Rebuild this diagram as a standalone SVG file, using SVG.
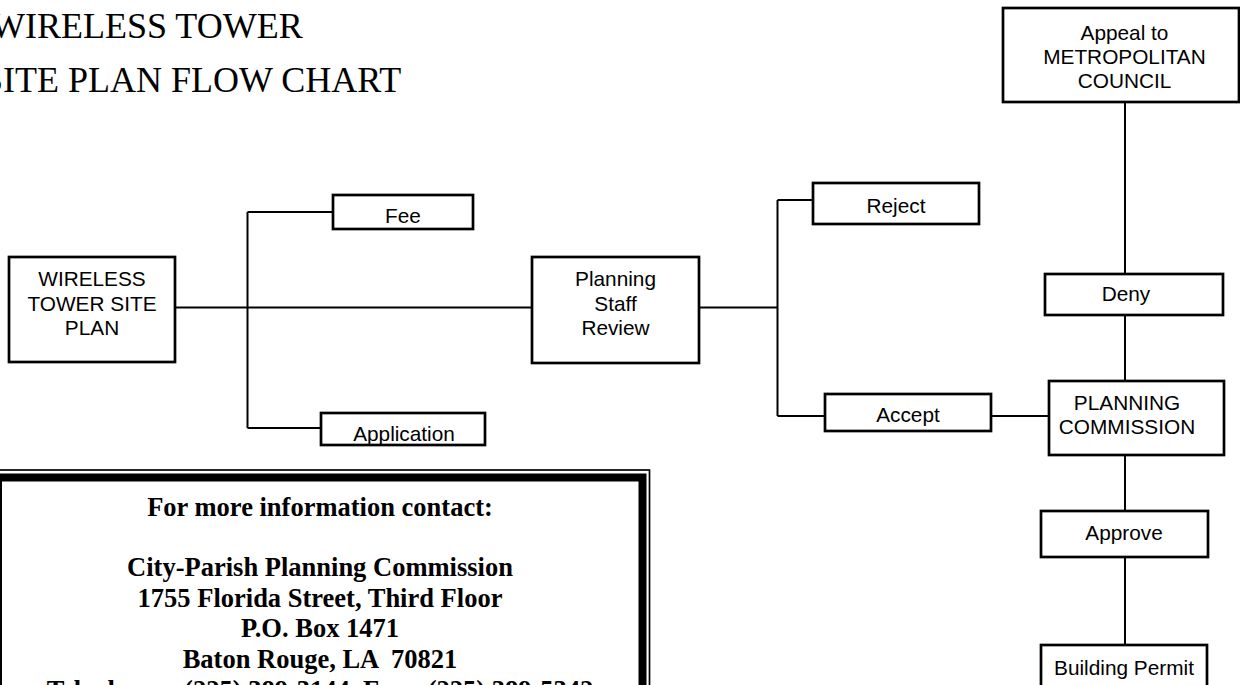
<svg xmlns="http://www.w3.org/2000/svg" width="1240" height="685" viewBox="0 0 1240 685">
<style>
.box{fill:#fff;stroke:#000;stroke-width:2.7}
.lbl{font-family:"Liberation Sans",Arial,sans-serif;font-size:20.8px;text-anchor:middle;fill:#000}
.conn{stroke:#000;stroke-width:2;fill:none}
.title{font-family:"Liberation Serif","Times New Roman",serif;font-size:36px;fill:#000}
.info{font-family:"Liberation Serif","Times New Roman",serif;font-weight:bold;font-size:26.5px;text-anchor:middle;fill:#000}
</style>
<rect width="1240" height="685" fill="#fff"/>
<g id="title">
<text class="title" x="-9" y="38">WIRELESS TOWER</text>
<text class="title" x="-17" y="91.5">SITE PLAN FLOW CHART</text>
</g>
<g id="connectors">
<path class="conn" d="M175 307.5H532"/>
<path class="conn" d="M247.5 212V428M247.5 212H333M247.5 428H321"/>
<path class="conn" d="M699 307.5H777.5"/>
<path class="conn" d="M777.5 200V416M777.5 200H813M777.5 416H825"/>
<path class="conn" d="M991 416H1049"/>
<path class="conn" d="M1125 102V274M1125 315V381M1125 455V511M1125 557V645"/>
</g>
<g id="wireless-tower-site-plan">
<rect class="box" x="9" y="257" width="166" height="105"/>
<text class="lbl" x="92" y="286">WIRELESS</text>
<text class="lbl" x="92" y="310.5">TOWER SITE</text>
<text class="lbl" x="92" y="335">PLAN</text>
</g>
<g id="fee">
<rect class="box" x="333" y="195" width="140" height="34"/>
<text class="lbl" x="403" y="223">Fee</text>
</g>
<g id="application">
<rect class="box" x="321" y="413" width="164" height="32"/>
<text class="lbl" x="404" y="441">Application</text>
</g>
<g id="planning-staff-review">
<rect class="box" x="532" y="257" width="167" height="106"/>
<text class="lbl" x="615.5" y="286">Planning</text>
<text class="lbl" x="615.5" y="310.5">Staff</text>
<text class="lbl" x="615.5" y="335">Review</text>
</g>
<g id="reject">
<rect class="box" x="813" y="183" width="166" height="41"/>
<text class="lbl" x="896" y="212.5">Reject</text>
</g>
<g id="accept">
<rect class="box" x="825" y="394" width="166" height="37"/>
<text class="lbl" x="908" y="422">Accept</text>
</g>
<g id="appeal">
<rect class="box" x="1003" y="8" width="236" height="94"/>
<text class="lbl" x="1124.5" y="39.5">Appeal to</text>
<text class="lbl" x="1124.5" y="64">METROPOLITAN</text>
<text class="lbl" x="1124.5" y="88">COUNCIL</text>
</g>
<g id="deny">
<rect class="box" x="1045" y="274" width="178" height="41"/>
<text class="lbl" x="1126" y="301">Deny</text>
</g>
<g id="planning-commission">
<rect class="box" x="1049" y="381" width="175" height="74"/>
<text class="lbl" x="1127" y="410">PLANNING</text>
<text class="lbl" x="1127" y="434">COMMISSION</text>
</g>
<g id="approve">
<rect class="box" x="1041" y="511" width="167" height="46"/>
<text class="lbl" x="1124" y="540">Approve</text>
</g>
<g id="building-permit">
<rect class="box" x="1041" y="645" width="166" height="60"/>
<text class="lbl" x="1124" y="674.5">Building Permit</text>
</g>
<g id="contact-info">
<rect x="-10" y="470" width="659.5" height="240" fill="none" stroke="#000" stroke-width="1.7"/>
<rect x="-2" y="477.5" width="644.5" height="240" fill="#fff" stroke="#000" stroke-width="8"/>
<text class="info" x="320" y="515.7">For more information contact:</text>
<text class="info" x="320" y="575.7">City-Parish Planning Commission</text>
<text class="info" x="320" y="606.5">1755 Florida Street, Third Floor</text>
<text class="info" x="320" y="637">P.O. Box 1471</text>
<text class="info" x="320" y="667.7" xml:space="preserve">Baton Rouge, LA  70821</text>
<text class="info" x="320" y="698.5" xml:space="preserve">Telephone:  (225) 389-3144, Fax:  (225) 389-5342</text>
</g>
</svg>
